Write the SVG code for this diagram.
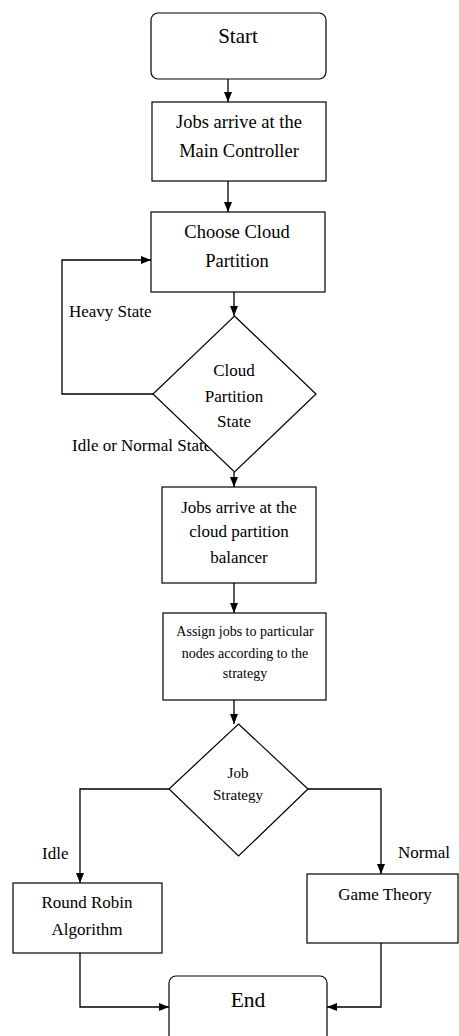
<svg xmlns="http://www.w3.org/2000/svg" width="459" height="1036" viewBox="0 0 459 1036">
<style>
.n{fill:#fff;stroke:#000;stroke-width:1.2}
.c{fill:none;stroke:#000;stroke-width:1.3}
text{font-family:"Liberation Serif","Times New Roman",serif;fill:#000;text-anchor:middle}
.l{text-anchor:start;font-size:17px}
</style>
<defs>
<marker id="a" viewBox="0 0 10 8" refX="10" refY="4" markerWidth="10" markerHeight="8" markerUnits="userSpaceOnUse" orient="auto">
<path d="M0,0 L10,4 L0,8 z" fill="#000"/>
</marker>
</defs>
<rect width="459" height="1036" fill="#fff"/>
<g id="connectors">
<path class="c" d="M228,79 V102" marker-end="url(#a)"/>
<path class="c" d="M228,181 V212" marker-end="url(#a)"/>
<path class="c" d="M234,292 V316" marker-end="url(#a)"/>
<path class="c" d="M153,394 H62 V260 H151" marker-end="url(#a)"/>
<path class="c" d="M234,472 V487" marker-end="url(#a)"/>
<path class="c" d="M234,583 V613" marker-end="url(#a)"/>
<path class="c" d="M234,700 V724" marker-end="url(#a)"/>
<path class="c" d="M169,789 H80 V883" marker-end="url(#a)"/>
<path class="c" d="M308,789 H381 V874" marker-end="url(#a)"/>
<path class="c" d="M80,953 V1007 H169" marker-end="url(#a)"/>
<path class="c" d="M381,943 V1007 H327" marker-end="url(#a)"/>
<text class="l" x="69" y="317">Heavy State</text>
<text class="l" x="72" y="451">Idle or Normal State</text>
<text class="l" x="42" y="859">Idle</text>
<text class="l" x="398" y="858">Normal</text>
</g>
<g id="start">
<rect class="n" x="151" y="13" width="175" height="66" rx="7"/>
<text x="238" y="43" font-size="21">Start</text>
</g>
<g id="main-controller">
<rect class="n" x="152" y="102" width="174" height="79"/>
<text x="239" y="128" font-size="18.5">Jobs arrive at the</text>
<text x="239" y="157" font-size="18.5">Main Controller</text>
</g>
<g id="choose-partition">
<rect class="n" x="151" y="212" width="174" height="80"/>
<text x="237" y="238" font-size="18.5">Choose Cloud</text>
<text x="237" y="267" font-size="18.5">Partition</text>
</g>
<g id="partition-state">
<polygon class="n" points="234.5,316 316,394 234.5,472 153,394"/>
<text x="234" y="376" font-size="17">Cloud</text>
<text x="234" y="402" font-size="17">Partition</text>
<text x="234" y="427" font-size="17">State</text>
</g>
<g id="partition-balancer">
<rect class="n" x="162" y="487" width="154" height="96"/>
<text x="239" y="513" font-size="17">Jobs arrive at the</text>
<text x="239" y="537" font-size="17">cloud partition</text>
<text x="239" y="563" font-size="17">balancer</text>
</g>
<g id="assign-jobs">
<rect class="n" x="163" y="613" width="163" height="87"/>
<text x="245" y="636" font-size="14">Assign jobs to particular</text>
<text x="245" y="658" font-size="14">nodes according to the</text>
<text x="245" y="678" font-size="14">strategy</text>
</g>
<g id="job-strategy">
<polygon class="n" points="238.5,724 308,789 238.5,856 169,789"/>
<text x="238" y="778" font-size="15">Job</text>
<text x="238" y="800" font-size="15">Strategy</text>
</g>
<g id="round-robin">
<rect class="n" x="13" y="883" width="149" height="70"/>
<text x="87" y="908" font-size="17">Round Robin</text>
<text x="87" y="935" font-size="17">Algorithm</text>
</g>
<g id="game-theory">
<rect class="n" x="307" y="874" width="151" height="69"/>
<text x="385" y="900" font-size="17">Game Theory</text>
</g>
<g id="end">
<rect class="n" x="169" y="976" width="158" height="70" rx="7"/>
<text x="248" y="1007" font-size="21.5">End</text>
</g>
</svg>
